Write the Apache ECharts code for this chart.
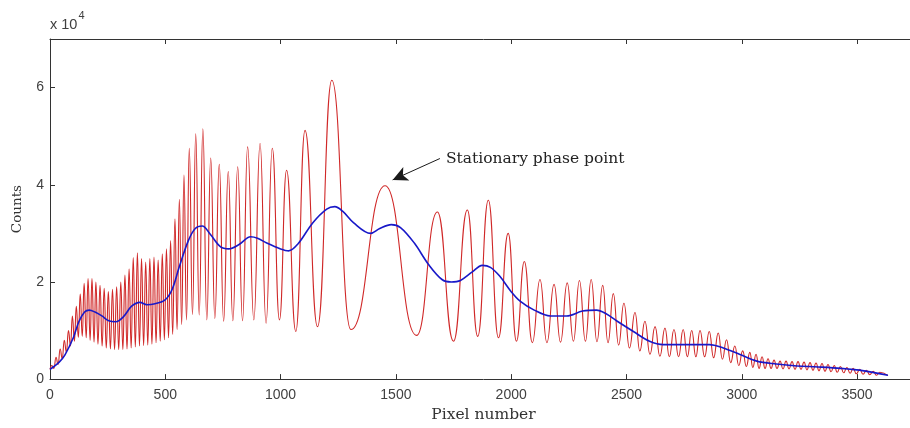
<!DOCTYPE html>
<html>
<head>
<meta charset="utf-8">
<script src="https://cdn.jsdelivr.net/npm/echarts@6/dist/echarts.min.js"></script>
<style>
html,body{margin:0;padding:0;background:#fff;overflow:hidden;width:910px;height:428px;}
#chart{width:1000px;height:428px;}
</style>
</head>
<body>
<div id="chart"></div>
<script>
// Values in units of 10^4 counts (axis shows "x 10^4")
// Red signal: local maxima (peaks)
const peakX = [8,26,44,62,80,97,114,131,148,165,182,199,217,235,253,271,289,307,325,343,361,379,397,415,433,451,469,487,505,523,542,561,581,604,632,663,697,734,773,814,857,911,964,1026,1106,1222,1453,1680,1810,1901,1987,2057,2125,2186,2243,2296,2347,2397,2443,2489,2537,2580,2624,2667,2706,2746,2783,2819,2859,2898,2934,2970,3004,3035,3062,3088,3114,3140,3166,3192,3218,3244,3270,3296,3322,3348,3374,3401,3428,3456,3483,3512,3541,3570,3599];
const peakY = [0.28,0.45,0.62,0.8,1.0,1.3,1.5,1.75,1.97,2.07,2.07,2.0,1.93,1.87,1.8,1.85,1.9,2.0,2.14,2.27,2.5,2.6,2.48,2.41,2.48,2.51,2.45,2.58,2.68,2.85,3.3,3.7,4.2,4.75,5.05,5.15,4.55,4.42,4.27,4.37,4.78,4.85,4.75,4.3,5.12,6.15,3.98,3.44,3.48,3.68,3.0,2.42,2.05,1.95,1.98,2.03,2.05,1.93,1.76,1.56,1.37,1.19,1.08,1.05,1.02,1.02,1.0,1.0,0.98,0.95,0.81,0.68,0.58,0.55,0.51,0.46,0.42,0.39,0.37,0.37,0.36,0.36,0.35,0.34,0.33,0.32,0.3,0.28,0.26,0.24,0.22,0.2,0.18,0.16,0.14];
// Red signal: local minima (troughs), including first and last sample
const troughX = [0,17,35,53,71,89,106,123,140,157,174,191,208,226,244,262,280,298,316,334,352,370,388,406,424,442,460,478,496,514,532,551,571,592,618,647,680,715,753,793,835,884,937,995,1066,1160,1305,1590,1750,1855,1945,2023,2092,2155,2214,2270,2322,2372,2420,2466,2513,2558,2602,2645,2686,2726,2764,2801,2839,2878,2916,2952,2987,3020,3048,3075,3101,3127,3153,3179,3205,3231,3257,3283,3309,3335,3361,3387,3414,3442,3470,3497,3526,3555,3584,3634];
const troughY = [0.2,0.22,0.3,0.42,0.55,0.68,0.78,0.86,0.88,0.85,0.8,0.76,0.72,0.68,0.64,0.62,0.61,0.61,0.61,0.62,0.64,0.66,0.68,0.69,0.7,0.72,0.75,0.78,0.81,0.85,0.92,1.02,1.12,1.22,1.33,1.32,1.22,1.25,1.19,1.2,1.2,1.22,1.15,1.22,0.98,1.08,1.02,0.9,0.78,0.88,0.85,0.78,0.75,0.75,0.76,0.78,0.78,0.77,0.75,0.7,0.64,0.58,0.51,0.47,0.46,0.46,0.46,0.46,0.46,0.44,0.41,0.34,0.28,0.26,0.24,0.22,0.22,0.22,0.22,0.21,0.21,0.2,0.2,0.19,0.18,0.17,0.16,0.15,0.14,0.13,0.12,0.11,0.1,0.09,0.08,0.07];
// Blue (smoothed / mean) curve
const blueX = [0,40,65,101,125,150,170,195,225,255,285,318,354,390,420,455,499,530,560,600,630,660,695,740,775,820,870,900,940,1000,1035,1075,1140,1200,1235,1270,1316,1390,1430,1480,1520,1580,1640,1700,1740,1780,1830,1875,1910,1950,2000,2040,2100,2170,2240,2310,2370,2410,2460,2530,2600,2660,2750,2860,2920,2990,3065,3150,3240,3330,3430,3530,3634];
const blueY = [0.2,0.35,0.5,0.85,1.18,1.38,1.42,1.38,1.3,1.2,1.18,1.28,1.5,1.58,1.53,1.55,1.63,1.85,2.3,2.85,3.1,3.15,2.98,2.72,2.68,2.77,2.93,2.9,2.8,2.68,2.64,2.78,3.22,3.5,3.55,3.45,3.22,3.0,3.1,3.18,3.12,2.8,2.37,2.05,2.0,2.03,2.2,2.34,2.3,2.12,1.8,1.6,1.42,1.3,1.3,1.4,1.42,1.35,1.19,0.98,0.78,0.71,0.71,0.71,0.64,0.51,0.37,0.31,0.27,0.25,0.22,0.17,0.08];
const xTicks = [0,500,1000,1500,2000,2500,3000,3500];
const yTicks = [0,2,4,6];
const annotationText = 'Stationary phase point';
const annotationFrom = [1691, 4.54];
const annotationTo = [1486, 4.10];

const red = [];
peakX.forEach((x, i) => red.push([x, peakY[i]]));
troughX.forEach((x, i) => red.push([x, troughY[i]]));
red.sort((a, b) => a[0] - b[0]);
const blue = blueX.map((x, i) => [x, blueY[i]]);

const labelFont = {fontFamily: '"Liberation Sans Narrow","Liberation Sans",Arial,sans-serif', fontSize: 14, color: '#404040'};
const serif = '"DejaVu Serif","Liberation Serif",serif';

const chart = echarts.init(document.getElementById('chart'), null, {renderer: 'canvas', width: 1000, height: 428});
chart.setOption({
  animation: false,
  backgroundColor: '#fff',
  grid: {left: 50, top: 39, width: 867, height: 341, containLabel: false},
  xAxis: [{
    type: 'value', min: 0, max: 3760, interval: 500, position: 'bottom',
    axisLine: {show: true, lineStyle: {color: '#333', width: 1}},
    axisTick: {show: true, inside: true, length: 5, lineStyle: {color: '#333'}},
    axisLabel: Object.assign({margin: 9, showMaxLabel: false, formatter: v => xTicks.includes(v) ? String(v) : ''}, labelFont),
    splitLine: {show: false},
    name: 'Pixel number', nameLocation: 'middle', nameGap: 26,
    nameTextStyle: {fontFamily: serif, fontSize: 15.5, color: '#333'}
  }, {
    type: 'value', min: 0, max: 3760, interval: 500, position: 'top',
    axisLine: {show: true, lineStyle: {color: '#333', width: 1}},
    axisTick: {show: true, inside: true, length: 5, lineStyle: {color: '#333'}},
    axisLabel: {show: false}, splitLine: {show: false}
  }],
  yAxis: [{
    type: 'value', min: 0, max: 7, interval: 2,
    axisLine: {show: true, lineStyle: {color: '#333', width: 1}},
    axisTick: {show: true, inside: true, length: 5, lineStyle: {color: '#333'}},
    axisLabel: Object.assign({margin: 6, formatter: v => yTicks.includes(v) ? String(v) : ''}, labelFont),
    splitLine: {show: false},
    name: 'Counts', nameLocation: 'middle', nameGap: 26, nameRotate: 90,
    nameTextStyle: {fontFamily: serif, fontSize: 13.5, color: '#333'}
  }],
  graphic: [{
    type: 'text', left: 50, top: 10,
    style: {
      text: '{a|x 10}{b|4}',
      rich: {
        a: {fontFamily: '"Liberation Sans",Arial,sans-serif', fontSize: 14.5, fill: '#404040', verticalAlign: 'bottom', lineHeight: 22},
        b: {fontFamily: '"Liberation Sans",Arial,sans-serif', fontSize: 11, fill: '#404040', verticalAlign: 'top', padding: [0,0,11,1]}
      }
    }
  }],
  series: [{
    type: 'line', name: 'signal', data: red, xAxisIndex: 0,
    showSymbol: false, smooth: 0.5, smoothMonotone: 'x',
    lineStyle: {color: '#d02828', width: 1.1},
    z: 2,
    markLine: {
      silent: true, symbol: ['none', 'arrow'], symbolSize: [11, 15],
      lineStyle: {color: '#1a1a1a', width: 1, type: 'solid'},
      label: {show: false},
      data: [[{coord: annotationFrom}, {coord: annotationTo}]]
    },
    markPoint: {
      silent: true, symbol: 'circle', symbolSize: 0,
      label: {show: true, position: 'right', distance: 6, formatter: annotationText,
        fontFamily: serif, fontSize: 15.5, color: '#222'},
      data: [{coord: annotationFrom}]
    }
  }, {
    type: 'line', name: 'mean', data: blue, xAxisIndex: 0,
    showSymbol: false, smooth: 0.35,
    lineStyle: {color: '#1818c8', width: 1.6},
    z: 3
  }]
});
</script>
</body>
</html>
